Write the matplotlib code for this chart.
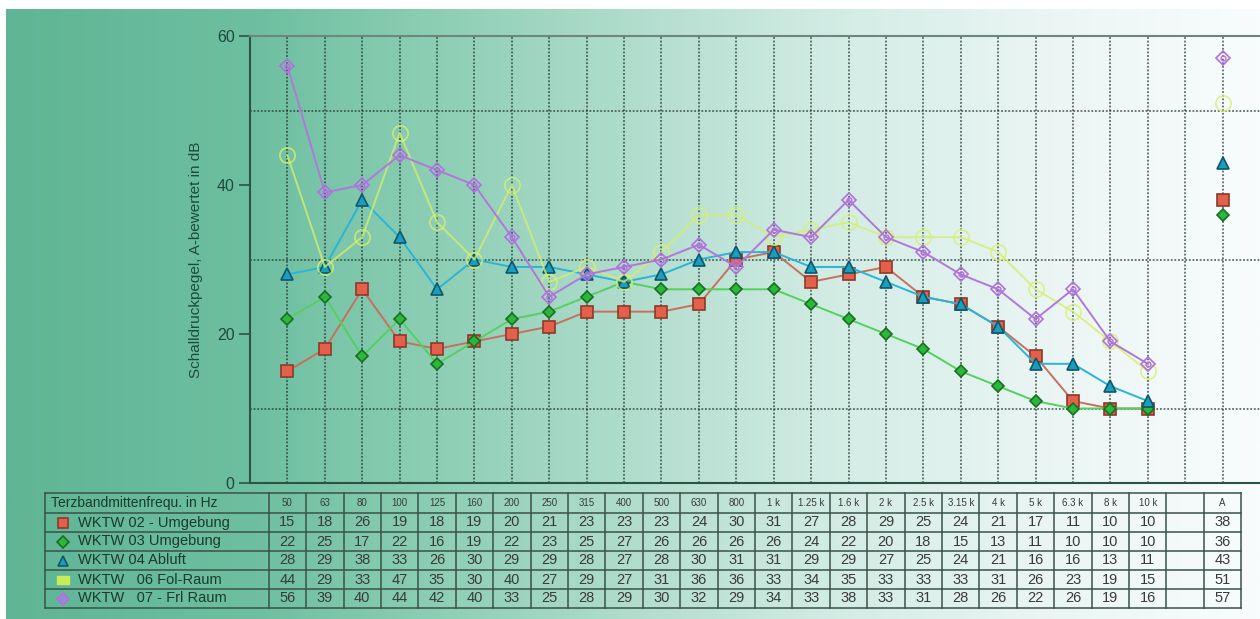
import numpy as np
import matplotlib.pyplot as plt
import matplotlib.transforms as mtransforms
from matplotlib.colors import LinearSegmentedColormap
from matplotlib.lines import Line2D

plt.rcParams['font.family'] = ['Liberation Sans', 'DejaVu Sans']

# === Daten ===
bands = ['50', '63', '80', '100', '125', '160', '200', '250', '315', '400', '500', '630',
         '800', '1 k', '1.25 k', '1.6 k', '2 k', '2.5 k', '3.15 k', '4 k', '5 k', '6.3 k',
         '8 k', '10 k']
names = ['WKTW 02 - Umgebung', 'WKTW 03 Umgebung', 'WKTW 04 Abluft',
         'WKTW   06 Fol-Raum', 'WKTW   07 - Frl Raum']
wktw02 = [15, 18, 26, 19, 18, 19, 20, 21, 23, 23, 23, 24, 30, 31, 27, 28, 29, 25, 24, 21, 17, 11, 10, 10]
wktw03 = [22, 25, 17, 22, 16, 19, 22, 23, 25, 27, 26, 26, 26, 26, 24, 22, 20, 18, 15, 13, 11, 10, 10, 10]
wktw04 = [28, 29, 38, 33, 26, 30, 29, 29, 28, 27, 28, 30, 31, 31, 29, 29, 27, 25, 24, 21, 16, 16, 13, 11]
wktw06 = [44, 29, 33, 47, 35, 30, 40, 27, 29, 27, 31, 36, 36, 33, 34, 35, 33, 33, 33, 31, 26, 23, 19, 15]
wktw07 = [56, 39, 40, 44, 42, 40, 33, 25, 28, 29, 30, 32, 29, 34, 33, 38, 33, 31, 28, 26, 22, 26, 19, 16]
a_werte = [38, 36, 43, 51, 57]

series = [wktw02, wktw03, wktw04, wktw06, wktw07]

# === Stile ===
styles = [
    dict(marker='s', ms=8, mfc='#e4604a', mec='#8a3a2a', color='#c8705c', alpha=1.0),
    dict(marker='D', ms=6, mfc='#2ab83a', mec='#1a6e22', color='#55d060', alpha=1.0),
    dict(marker='^', ms=9, mfc='#1a9ec0', mec='#0f5668', color='#2ab4d8', alpha=1.0),
    dict(marker='o', ms=11, mfc='none', mec='#d8f070', color='#d4ee70', alpha=0.8),
    dict(marker='D', ms=7, mfc='none', mec='#b070e0', color='#b078d8', alpha=1.0),
]

W, H = 1260, 619
fig = plt.figure(figsize=(W / 100, H / 100), dpi=100, facecolor='white')

# === Hintergrundverlauf ===
bg = fig.add_axes([6 / W, 0, 1 - 6 / W, 1 - 9 / H], zorder=-10)
stops = [(0.0, '#5fb595'), (0.2, '#6ebfa1'), (0.35, '#8ecfb6'), (0.5, '#b1ddcd'),
         (0.66, '#d2ece4'), (0.82, '#e9f5f3'), (0.94, '#f4fafa'), (1.0, '#f8fcfd')]
cmap = LinearSegmentedColormap.from_list('bg', stops)
bg.imshow(np.linspace(0, 1, 512)[None, :], aspect='auto', cmap=cmap, extent=[0, 1, 0, 1])
bg.axis('off')

# === Diagramm ===
ax = fig.add_axes([250 / W, 1 - 483 / H, 1010 / W, 447 / H])
ax.set_facecolor('none')
x = np.arange(len(bands))
x_a = len(bands) + 1

for vals, st in zip(series, styles):
    ax.plot(x, vals, color=st['color'], lw=1.4, marker=st['marker'], ms=st['ms'],
            mfc=st['mfc'], mec=st['mec'], mew=1.2, alpha=st['alpha'], zorder=3)
for val, st in zip(a_werte, styles):
    ax.plot([x_a], [val], ls='none', marker=st['marker'], ms=st['ms'],
            mfc=st['mfc'], mec=st['mec'], mew=1.2, alpha=st['alpha'], zorder=3)
# Kreis im Frl-Raum Marker
ax.plot(x, wktw07, ls='none', marker='o', ms=3.5, mfc='none', mec='#b070e0', mew=1, zorder=4)
ax.plot([x_a], [a_werte[4]], ls='none', marker='o', ms=3.5, mfc='none', mec='#b070e0', mew=1, zorder=4)

ax.set_xlim(-1, x_a + 1)
ax.set_ylim(0, 60)
ax.set_yticks([0, 20, 40, 60])
ax.set_yticks(np.arange(0, 61, 10), minor=True)
ax.set_xticks(np.arange(x_a + 1))
ax.set_xticklabels([])
ax.tick_params(axis='x', length=0)
ax.tick_params(axis='y', which='major', length=8, width=1.2, color='#2a5545',
               labelsize=11.5, labelcolor='#1d4a3c', pad=3)
ax.tick_params(axis='y', which='minor', length=0)
ax.grid(True, which='minor', axis='y', color='#1a3028', alpha=0.7, ls=(0, (1, 1)), lw=1.3)
ax.grid(True, which='major', axis='x', color='#1a3028', alpha=0.7, ls=(0, (1, 1)), lw=1.3)
ax.set_ylabel('Schalldruckpegel, A-bewertet in dB', fontsize=11, color='#1d4a3c', labelpad=10)
for s in ['left', 'bottom']:
    ax.spines[s].set_color('#2a5545')
    ax.spines[s].set_linewidth(1.5)
ax.spines['top'].set_color('#6f8580')
ax.spines['top'].set_linewidth(1.5)
ax.spines['right'].set_visible(False)

# === Tabelle ===
tr = mtransforms.blended_transform_factory(ax.transData, fig.transFigure)
rows_px = [493, 513, 532, 551, 570, 589, 608]
rows = [1 - p / H for p in rows_px]
left = -6.47
right = x_a + 0.5
lc = '#3a524a'
for yy in rows:
    fig.add_artist(Line2D([left, right], [yy, yy], transform=tr, color=lc, lw=1.1))
for xx in [left] + list(np.arange(-0.5, x_a + 1, 1.0)):
    fig.add_artist(Line2D([xx, xx], [rows[0], rows[-1]], transform=tr, color=lc, lw=1.1))

txt_col = '#3a3a3a'
mid = [(rows[i] + rows[i + 1]) / 2 for i in range(len(rows) - 1)]
fig.text(-6.33, mid[0], 'Terzbandmittenfrequ. in Hz', transform=tr, ha='left', va='center',
         fontsize=10, color='#1a3a2c')
for i, b in enumerate(bands):
    fig.text(i, mid[0], b, transform=tr, ha='center', va='center', fontsize=7, color=txt_col)
fig.text(x_a, mid[0], 'A', transform=tr, ha='center', va='center', fontsize=7, color=txt_col)

leg_ms = [7, 6, 7, 8, 6]
for r, (name, vals, st, a) in enumerate(zip(names, series, styles, a_werte)):
    yy = mid[r + 1]
    if r == 3:
        fig.add_artist(Line2D([-5.99], [yy], transform=tr, ls='none', marker='$\\equiv$',
                              ms=8, color='#c8ec58'))
    else:
        fig.add_artist(Line2D([-5.99], [yy], transform=tr, ls='none', marker=st['marker'],
                              ms=leg_ms[r], mfc=st['mfc'] if r != 4 else '#9a88d0',
                              mec=st['mec'], mew=1.2))
    fig.text(-5.6, yy, name, transform=tr, ha='left', va='center', fontsize=10.5,
             color='#1a3a2c')
    for i, v in enumerate(vals):
        fig.text(i, yy, str(v), transform=tr, ha='center', va='center', fontsize=10.5,
                 color=txt_col)
    fig.text(x_a, yy, str(a), transform=tr, ha='center', va='center', fontsize=10.5,
             color=txt_col)

fig.savefig('out.png', dpi=100, facecolor='white')
